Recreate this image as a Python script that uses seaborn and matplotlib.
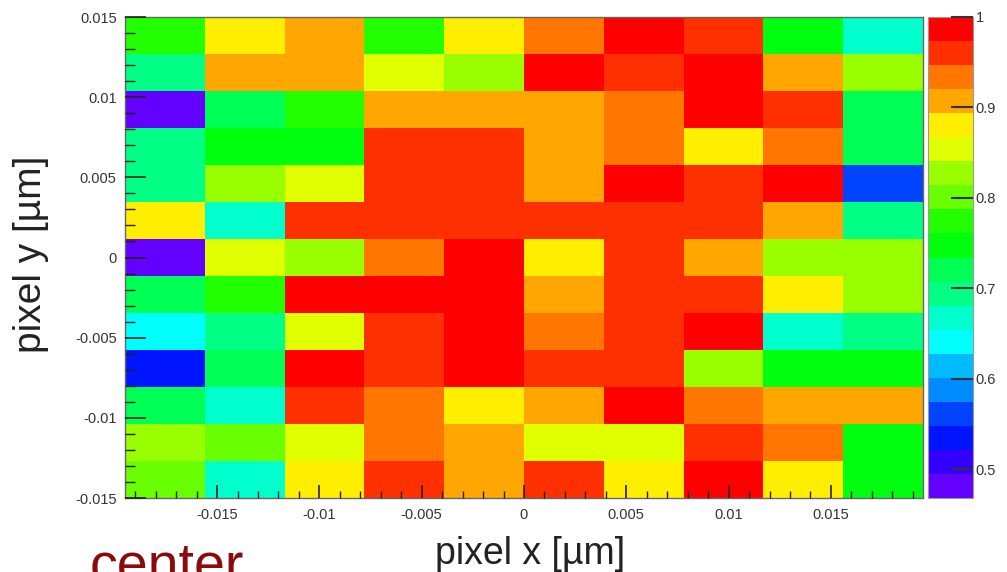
import colorsys
import numpy as np
import pandas as pd
import matplotlib
matplotlib.use("Agg")
import matplotlib.pyplot as plt
import seaborn as sns
from matplotlib.colors import ListedColormap

sns.set_style("white")
plt.rcParams['font.family'] = ['Liberation Sans', 'DejaVu Sans']
plt.rcParams['axes.axisbelow'] = False

# histogram range (pixel coordinates) and z range of the palette
x_range = (-0.0195, 0.0195)
y_range = (-0.015, 0.015)
z_min, z_max = 0.468, 1.0

# bin centres
x_centers = [-0.01755, -0.01365, -0.00975, -0.00585, -0.00195,
             0.00195, 0.00585, 0.00975, 0.01365, 0.01755]
y_centers = [0.01385, 0.01154, 0.00923, 0.00692, 0.00462, 0.00231, 0.0,
             -0.00231, -0.00462, -0.00692, -0.00923, -0.01154, -0.01385]

# efficiency per pixel cell, top row first
efficiency = [
    [0.774, 0.880, 0.907, 0.774, 0.880, 0.933, 0.987, 0.960, 0.747, 0.667],
    [0.694, 0.907, 0.907, 0.854, 0.827, 0.987, 0.960, 0.987, 0.907, 0.827],
    [0.481, 0.721, 0.774, 0.907, 0.907, 0.907, 0.933, 0.987, 0.960, 0.721],
    [0.694, 0.747, 0.747, 0.960, 0.960, 0.907, 0.933, 0.880, 0.933, 0.721],
    [0.694, 0.827, 0.854, 0.960, 0.960, 0.907, 0.987, 0.960, 0.987, 0.561],
    [0.880, 0.667, 0.960, 0.960, 0.960, 0.960, 0.960, 0.960, 0.907, 0.694],
    [0.481, 0.854, 0.827, 0.933, 0.987, 0.880, 0.960, 0.907, 0.827, 0.827],
    [0.721, 0.774, 0.987, 0.987, 0.987, 0.907, 0.960, 0.960, 0.880, 0.827],
    [0.641, 0.694, 0.854, 0.960, 0.987, 0.933, 0.960, 0.987, 0.667, 0.694],
    [0.534, 0.721, 0.987, 0.960, 0.987, 0.960, 0.960, 0.827, 0.747, 0.747],
    [0.721, 0.667, 0.960, 0.933, 0.880, 0.907, 0.987, 0.933, 0.907, 0.907],
    [0.827, 0.800, 0.854, 0.933, 0.907, 0.854, 0.854, 0.960, 0.933, 0.747],
    [0.800, 0.667, 0.880, 0.960, 0.907, 0.960, 0.880, 0.987, 0.880, 0.747],
]

x_ticks = [-0.015, -0.01, -0.005, 0, 0.005, 0.01, 0.015]
x_tick_labels = ["-0.015", "-0.01", "-0.005", "0", "0.005", "0.01", "0.015"]
y_ticks = [-0.015, -0.01, -0.005, 0, 0.005, 0.01, 0.015]
y_tick_labels = ["-0.015", "-0.01", "-0.005", "0", "0.005", "0.01", "0.015"]
z_ticks = [0.5, 0.6, 0.7, 0.8, 0.9, 1.0]
z_tick_labels = ["0.5", "0.6", "0.7", "0.8", "0.9", "1"]

# ROOT "pretty" palette (violet -> red) sampled with 20 contour levels
n_levels = 20
colors = []
for k in range(n_levels):
    idx = int((k + 0.99) * 50 / n_levels)
    hue = 0.0 if idx >= 49 else 280 - (idx + 1) * 5.6
    colors.append(colorsys.hls_to_rgb(hue / 360.0, 0.5, 1.0))
cmap = ListedColormap(colors)

grid = pd.DataFrame(efficiency, index=y_centers, columns=x_centers)

fig = plt.figure(figsize=(10.07, 5.72), dpi=100)
W, H = 1007, 572
ax = fig.add_axes([125 / W, 1 - 498 / H, 798 / W, 481 / H])
cax = fig.add_axes([928 / W, 1 - 498 / H, 45 / W, 481 / H])

sns.heatmap(grid, ax=ax, cbar_ax=cax, cmap=cmap, vmin=z_min, vmax=z_max,
            xticklabels=False, yticklabels=False)
ax.set_axisbelow(False)
cax.set_axisbelow(False)

nx, ny = grid.shape[1], grid.shape[0]
dx = (x_range[1] - x_range[0]) / nx
dy = (y_range[1] - y_range[0]) / ny


def to_ix(v):
    return (v - x_range[0]) / dx


def to_iy(v):
    return (y_range[1] - v) / dy


ax.set_xticks([to_ix(v) for v in x_ticks])
ax.set_xticklabels(x_tick_labels)
ax.set_yticks([to_iy(v) for v in y_ticks])
ax.set_yticklabels(y_tick_labels, rotation=0)
ax.set_xticks([to_ix(v) for v in np.arange(-0.019, 0.0191, 0.001)], minor=True)
ax.set_yticks([to_iy(v) for v in np.arange(-0.015, 0.0151, 0.001)], minor=True)

tick_col = "#222222"
ax.tick_params(axis="x", which="major", direction="in", length=9.5, width=1.2,
               color=tick_col, pad=7, labelsize=10.5, labelcolor="#333333",
               bottom=True, top=False)
ax.tick_params(axis="x", which="minor", direction="in", length=5, width=1.0,
               color=tick_col, bottom=True, top=False)
ax.tick_params(axis="y", which="major", direction="in", length=15, width=1.2,
               color=tick_col, pad=6, labelsize=10.5, labelcolor="#333333",
               left=True, right=False)
ax.tick_params(axis="y", which="minor", direction="in", length=7, width=1.0,
               color=tick_col, left=True, right=False)
for s in ax.spines.values():
    s.set_visible(True)
    s.set_color("#666666")
    s.set_linewidth(1.0)

cbar = ax.collections[0].colorbar
cbar.set_ticks(z_ticks)
cbar.set_ticklabels(z_tick_labels)
cbar.ax.minorticks_off()
cax.tick_params(direction="in", length=16, width=1.5, color="#333333", pad=2,
                labelsize=10.5, labelcolor="#333333", right=True, left=False)
cbar.outline.set_linewidth(0.8)
cbar.outline.set_edgecolor("#999999")

fig.text(31 / W, 0.555, "pixel y [µm]", rotation=90, ha="center", va="center",
         fontsize=28, color="#222222")
fig.text(530 / W, 1 - 564 / H, "pixel x [µm]", ha="center", va="baseline",
         fontsize=27, color="#222222")
fig.text(90 / W, 1 - 582 / H, "center", ha="left", va="baseline",
         fontsize=40, color="#8b0a0a")

fig.savefig("out.png", dpi=100)
